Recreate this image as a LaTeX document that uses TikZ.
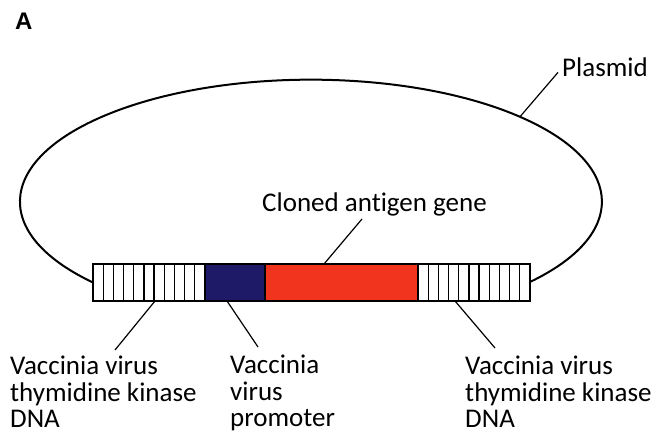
\documentclass[tikz,border=0pt]{standalone}
\usepackage{fontspec}
\setmainfont{Carlito}[Ligatures={NoCommon}]
\newfontfamily\labelA{Liberation Sans}
\usetikzlibrary{calc}
\definecolor{promblue}{RGB}{30,26,104}
\definecolor{genered}{RGB}{240,52,30}
\tikzset{
  lbl/.style={inner sep=0pt, font=\fontsize{27}{26.5}\selectfont, align=left},
  seg/.style={draw=black, line width=1.8pt, minimum height=37pt, inner sep=0pt, outer sep=0pt, anchor=west},
  leader/.style={draw=black, line width=1.2pt},
  stripe/.style={draw=black, line width=1.3pt}
}
\begin{document}
\begin{tikzpicture}[x=1pt,y=1pt]
\useasboundingbox (0,0) rectangle (653,434);
% bar segments
\node[seg, minimum width=112pt] (L) at (93,151.5) {};
\node[seg, minimum width=60pt, fill=promblue] (P) at (L.east) {};
\node[seg, minimum width=153pt, fill=genered] (G) at (P.east) {};
\node[seg, minimum width=112pt] (R) at (G.east) {};
\foreach \i in {1,...,10} {
  \draw[stripe] ($(L.north west)!\i/11!(L.north east)$) -- ($(L.south west)!\i/11!(L.south east)$);
  \draw[stripe] ($(R.north west)!\i/11!(R.north east)$) -- ($(R.south west)!\i/11!(R.south east)$);
}
% redraw outlines on top
\draw[line width=1.8pt] (L.north west) rectangle (R.south east);
\draw[line width=1.8pt] (P.north west) -- (P.south west) (G.north west) -- (G.south west) (G.north east) -- (G.south east);
% plasmid arc
\draw[line width=2pt] (L.west) arc[start angle=221.5, end angle=-41, x radius=291pt, y radius=122pt];
\coordinate (pl) at (520.2,317.5);
% labels
\node[inner sep=0pt, anchor=base west, font=\labelA\bfseries\fontsize{24}{24}\selectfont] (A) at (15,404) {A};
\node[lbl, anchor=base west] (plasmid) at (562,357) {Plasmid};
\node[lbl, anchor=base west] (cloned) at (262,222) {Cloned antigen gene};
\node[lbl, anchor=north west] (tkL) at (10,78) {Vaccinia virus\\thymidine kinase\\DNA};
\node[lbl, anchor=north west] (prom) at (230,79) {Vaccinia\\virus\\promoter};
\node[lbl, anchor=north west] (tkR) at (465,78) {Vaccinia virus\\thymidine kinase\\DNA};
% leaders
\draw[leader] ([shift={(-4,5)}]plasmid.south west) -- (pl);
\draw[leader] ([shift={(100,-7)}]cloned.base west) -- ([xshift=59pt]G.north west);
\draw[leader] ([xshift=62pt]L.south west) -- ([shift={(105,6)}]tkL.north west);
\draw[leader] ([xshift=22pt]P.south west) -- ([shift={(28,8)}]prom.north west);
\draw[leader] ([xshift=37pt]R.south west) -- ([shift={(30,8)}]tkR.north west);
\end{tikzpicture}
\end{document}
